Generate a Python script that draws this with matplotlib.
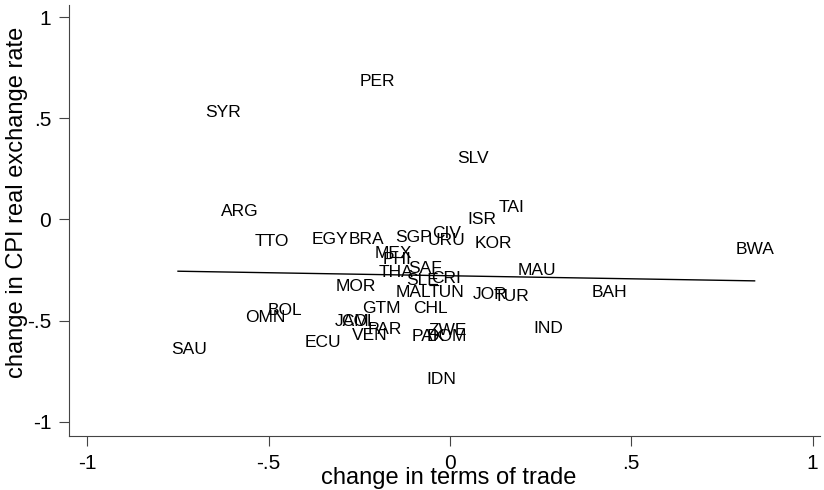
import numpy as np
import matplotlib.pyplot as plt

# country codes and their (terms of trade change, CPI real exchange rate change)
countries = ["PER", "SYR", "SLV", "ARG", "TAI", "ISR", "TTO", "EGY", "BRA", "SGP",
             "CIV", "URU", "KOR", "BWA", "MEX", "PHI", "SAF", "THA", "MAU", "SLE",
             "CRI", "MOR", "MAL", "TUN", "JOR", "TUR", "BAH", "BOL", "OMN", "GTM",
             "CHL", "JAM", "COL", "PAR", "VEN", "ECU", "SAU", "ZWE", "PAK", "DOM",
             "IND", "IDN"]
tot_change = [-0.20, -0.625, 0.063, -0.58, 0.17, 0.088, -0.49, -0.33, -0.23, -0.10,
              -0.01, -0.01, 0.12, 0.84, -0.155, -0.145, -0.07, -0.15, 0.24, -0.075,
              -0.01, -0.26, -0.10, -0.01, 0.11, 0.17, 0.44, -0.455, -0.51, -0.19,
              -0.055, -0.27, -0.25, -0.18, -0.22, -0.35, -0.72, -0.005, -0.06, -0.01,
              0.27, -0.025]
rer_change = [0.68, 0.53, 0.30, 0.04, 0.06, 0.0, -0.11, -0.10, -0.10, -0.09,
              -0.07, -0.105, -0.12, -0.15, -0.17, -0.20, -0.24, -0.26, -0.25, -0.30,
              -0.29, -0.33, -0.36, -0.36, -0.37, -0.38, -0.36, -0.45, -0.485, -0.44,
              -0.44, -0.505, -0.505, -0.545, -0.575, -0.61, -0.64, -0.55, -0.58, -0.58,
              -0.54, -0.79]

# fitted line
fit_intercept = -0.278
fit_slope = -0.03

ticks = [-1, -0.5, 0, 0.5, 1]
tick_labels = ["-1", "-.5", "0", ".5", "1"]

plt.rcParams['font.family'] = ['Liberation Sans', 'DejaVu Sans']

fig = plt.figure(figsize=(8.24, 4.9), dpi=100)
ax = fig.add_axes([0.084, 0.110, 0.911, 0.880])

for name, x, y in zip(countries, tot_change, rer_change):
    ax.text(x, y, name, fontsize=12.5, ha='center', va='center', color='black')

xs = np.array([min(tot_change) - 0.03, max(tot_change)])
ax.plot(xs, fit_intercept + fit_slope * xs, color='black', lw=1.0)

ax.set_xlim(-1.05, 1.02)
ax.set_ylim(-1.07, 1.06)
ax.set_xticks(ticks)
ax.set_xticklabels(tick_labels)
ax.set_yticks(ticks)
ax.set_yticklabels(tick_labels)
ax.tick_params(labelsize=15, length=7, width=0.8, color='#444444',
               direction='out', pad=6)

ax.spines['top'].set_visible(False)
ax.spines['right'].set_visible(False)
ax.spines['left'].set_color('#444444')
ax.spines['bottom'].set_color('#444444')

ax.set_xlabel("change in terms of trade", fontsize=17)
ax.xaxis.set_label_coords(0.505, -0.072)
ax.set_ylabel("change in CPI real exchange rate", fontsize=17)
ax.yaxis.set_label_coords(-0.055, 0.543)

fig.savefig("out.png", dpi=100)
